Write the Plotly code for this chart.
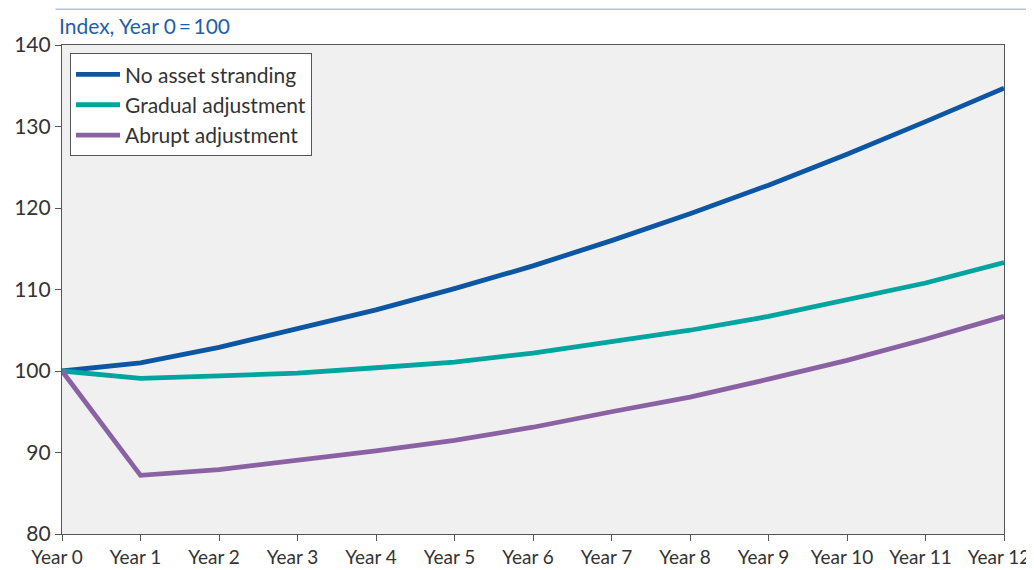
import plotly.graph_objects as go

years = [f"Year {i}" for i in range(13)]
no_stranding = [100, 101.0, 102.9, 105.2, 107.5, 110.1, 112.9, 116.0, 119.3, 122.8, 126.6, 130.6, 134.7]
gradual = [100, 99.1, 99.4, 99.75, 100.4, 101.1, 102.2, 103.6, 105.0, 106.7, 108.7, 110.8, 113.3]
abrupt = [100, 87.2, 87.9, 89.0, 90.2, 91.5, 93.1, 95.0, 96.8, 99.0, 101.3, 103.9, 106.7]

series = [
    ("No asset stranding", no_stranding, "#0d56a3"),
    ("Gradual adjustment", gradual, "#00a5a0"),
    ("Abrupt adjustment", abrupt, "#8a62a3"),
]

font = "Lato, Open Sans, sans-serif"
x = list(range(len(years)))

fig = go.Figure()
for name, vals, col in series:
    fig.add_trace(go.Scatter(x=x, y=vals, mode="lines", name=name,
                             line=dict(color=col, width=4.8)))

# page body has an 8px margin, so the figure is sized to the visible area
fig.update_layout(
    width=1026, height=562,
    margin=dict(l=54, r=30, t=37, b=36),
    paper_bgcolor="white",
    plot_bgcolor="#f0f0f0",
    font=dict(family=font, size=19, color="#333333"),
    showlegend=True,
    legend=dict(x=0.0085, y=0.983, xanchor="left", yanchor="top",
                bgcolor="white", bordercolor="#555555", borderwidth=1,
                font=dict(size=21, color="#333333"), tracegroupgap=0,
                itemwidth=44),
    annotations=[dict(text="Index, Year 0\u2009=\u2009100", xref="paper", yref="paper",
                      x=-0.005, y=1.01, xanchor="left", yanchor="bottom",
                      showarrow=False, font=dict(size=21, color="#1f5fa8"))],
    shapes=[dict(type="line", xref="paper", yref="paper",
                 x0=-0.007, x1=1.04, y0=1.073, y1=1.073,
                 line=dict(color="#b8bfe0", width=1.5))],
)
fig.update_xaxes(tickvals=x, ticktext=years, range=[0, 12], showgrid=False,
                 zeroline=False, showline=True, linecolor="#555555", linewidth=1.2,
                 mirror=True, ticks="outside", ticklen=6, tickcolor="#555555",
                 tickfont=dict(size=19), ticklabelshift=-5,
                 automargin=False, ticklabeloverflow="allow")
fig.update_yaxes(range=[80, 140], dtick=10, showgrid=False, zeroline=False,
                 showline=True, linecolor="#555555", linewidth=1.2, mirror=True,
                 ticks="outside", ticklen=6, tickcolor="#555555",
                 tickfont=dict(size=21), automargin=False, ticklabeloverflow="allow")

fig.write_html("out.html")
